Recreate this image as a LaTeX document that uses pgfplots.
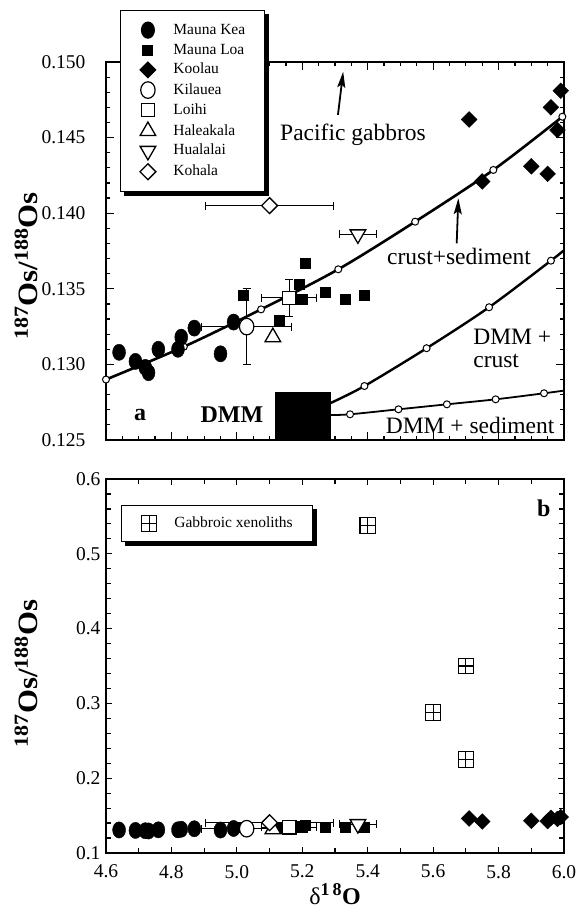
\documentclass[border=0pt]{standalone}
\usepackage{fontspec}
\setmainfont{Liberation Serif}
\usepackage{graphicx}
\usepackage{pgfplots}
\usepackage{pgfplotstable}
\pgfplotsset{compat=1.18}
\usetikzlibrary{arrows.meta}

\newcommand\tickfont{\fontsize{19.5}{19.5}\selectfont}
\newcommand\lblfont{\fontsize{23.5}{23.5}\selectfont}
\newcommand\legfont{\fontsize{15.5}{15.5}\selectfont}
\newcommand\oslabel{\scalebox{1.1}[1]{\bfseries\fontsize{28}{28}\selectfont\textsuperscript{\fontsize{20}{20}\selectfont 187}Os/\textsuperscript{\fontsize{20}{20}\selectfont 188}Os}}

% square with a cross inside (gabbroic xenoliths)
\pgfdeclareplotmark{boxplus}{%
  \pgfpathrectangle{\pgfpoint{-\pgfplotmarksize}{-\pgfplotmarksize}}{\pgfpoint{2\pgfplotmarksize}{2\pgfplotmarksize}}%
  \pgfusepathqfillstroke
  \pgfpathmoveto{\pgfpoint{-\pgfplotmarksize}{0pt}}\pgfpathlineto{\pgfpoint{\pgfplotmarksize}{0pt}}%
  \pgfpathmoveto{\pgfpoint{0pt}{-\pgfplotmarksize}}\pgfpathlineto{\pgfpoint{0pt}{\pgfplotmarksize}}%
  \pgfusepathqstroke}

% data
\pgfplotstableread{
x y
4.64 0.1308
4.69 0.1302
4.72 0.1298
4.73 0.12945
4.76 0.1310
4.82 0.1310
4.83 0.1318
4.87 0.1324
4.95 0.1307
4.99 0.1328
}\maunakea
\pgfplotstableread{
x y
5.02 0.1346
5.13 0.1329
5.19 0.1353
5.21 0.1367
5.20 0.1343
5.27 0.1348
5.33 0.1343
5.39 0.1346
}\maunaloa
\pgfplotstableread{
x y
5.71 0.1462
5.75 0.1421
5.90 0.1431
5.95 0.1426
5.96 0.1470
5.99 0.1481
5.98 0.1455
}\koolau
\pgfplotstableread{
x y ex ey
5.03 0.1325 0.137 0.0025
}\kilauea
\pgfplotstableread{
x y ex ey
5.16 0.1344 0.084 0.0012
}\loihi
\pgfplotstableread{
x y
5.11 0.1318
}\haleakala
\pgfplotstableread{
x y ex
5.37 0.1386 0.056
}\hualalai
\pgfplotstableread{
x y ex
5.10 0.1405 0.195
}\kohala
\pgfplotstableread{
x y
5.40 0.538
5.60 0.288
5.70 0.350
5.70 0.225
}\gabbro

% mixing curves
\pgfplotstableread{
x y
4.600 0.1290
4.838 0.13117
5.074 0.13364
5.310 0.13629
5.545 0.13944
5.784 0.14286
5.995 0.14638
}\crustsed
\pgfplotstableread{
x y
5.285 0.12743
5.390 0.12857
5.580 0.13107
5.771 0.13378
5.960 0.13686
5.998 0.13752
}\dmmcrust
\pgfplotstableread{
x y
5.285 0.12665
5.346 0.12670
5.494 0.12703
5.642 0.12736
5.791 0.12769
5.939 0.12809
5.998 0.12826
}\dmmsed

\pgfplotsset{
  osaxis/.style={
    scale only axis, width=458pt, xmin=4.6, xmax=6.0,
    axis line style={line width=1.6pt},
    every tick/.style={black, line width=1.2pt},
    major tick length=8pt, minor tick length=4pt,
    tick label style={font=\tickfont},
    /pgf/number format/assume math mode=true,
    xtick distance=0.2,
    scaled ticks=false,
    clip=false,
    legend cell align=left,
  },
  legbox/.style={draw=black, line width=1pt, fill=white, inner xsep=19.5pt,
    row sep=3.85pt, column sep=17.5pt, font=\legfont, cells={anchor=west},
    nodes={inner sep=0pt, text height=12pt, text depth=4pt, font=\legfont}},
  mkea/.style={only marks, mark=*, mark size=6.5pt, mark options={fill=black, draw=black, yscale=1.25}},
  mloa/.style={only marks, mark=square*, mark size=5pt, mark options={fill=black, draw=black}},
  kool/.style={only marks, mark=square*, mark size=5.6pt, mark options={fill=black, draw=black, rotate=45}},
  kila/.style={only marks, mark=*, mark size=7.2pt, mark options={fill=white, draw=black, line width=1.2pt, yscale=1.15}},
  loih/.style={only marks, mark=square*, mark size=6.7pt, mark options={fill=white, draw=black, line width=1.2pt}},
  hale/.style={only marks, mark=triangle*, mark size=9pt, mark options={fill=white, draw=black, line width=1.3pt}},
  hual/.style={only marks, mark=triangle*, mark size=9pt, mark options={fill=white, draw=black, line width=1.3pt, rotate=180}},
  koha/.style={only marks, mark=square*, mark size=5.6pt, mark options={fill=white, draw=black, line width=1.3pt, rotate=45}},
  gabb/.style={only marks, mark=boxplus, mark size=7.75pt, mark options={fill=white, draw=black, line width=1.2pt}},
  ebxy/.style={draw=none, mark=none, forget plot,
    error bars/.cd, x dir=both, x explicit, y dir=both, y explicit,
    error bar style={draw=black, line width=1pt},
    error mark options={draw=black, line width=1pt, mark size=4pt, rotate=90}},
  ebx/.style={draw=none, mark=none, forget plot,
    error bars/.cd, x dir=both, x explicit,
    error bar style={draw=black, line width=1pt},
    error mark options={draw=black, line width=1pt, mark size=4pt, rotate=90}},
  curvemk/.style={only marks, mark=*, mark size=3.5pt, mark options={fill=white, draw=black, line width=1pt}, forget plot},
}

\begin{document}
\begin{tikzpicture}
\useasboundingbox (0pt,0pt) rectangle (577pt,-912pt);

% ---------------- panel a ----------------
\begin{axis}[osaxis,
  at={(106pt,-62pt)}, anchor=north west, height=378pt,
  ymin=0.125, ymax=0.150,
  ytick distance=0.005, minor y tick num=4, minor x tick num=3,
  xticklabels={},
  yticklabel style={xshift=-17pt, /pgf/number format/.cd, fixed, fixed zerofill, precision=3},
  ylabel={\oslabel},
  every axis y label/.style={at={(-0.1747,0.46)}, rotate=90, anchor=center},
  legend style={legbox, name=lega, at={(0.0306,1.1376)}, anchor=north west, inner ysep=11.5pt},
]
% mixing curves
\addplot[line width=2.6pt, smooth, forget plot] table {\crustsed};
\addplot[curvemk] table {\crustsed};
\addplot[line width=2.4pt, smooth, forget plot] table {\dmmcrust};
\addplot[curvemk] table[skip coords between index={0}{1}, skip coords between index={5}{6}] {\dmmcrust};
\addplot[line width=1.8pt, smooth, forget plot] table {\dmmsed};
\addplot[curvemk] table[skip coords between index={0}{1}, skip coords between index={6}{7}] {\dmmsed};
% DMM box
\addplot[fill=black, draw=black, forget plot] coordinates {(5.117,0.125) (5.285,0.125) (5.285,0.12819) (5.117,0.12819)} -- cycle;
% error bars
\addplot[ebxy] table[x=x, y=y, x error=ex, y error=ey] {\kilauea};
\addplot[ebxy] table[x=x, y=y, x error=ex, y error=ey] {\loihi};
\addplot[ebx] table[x=x, y=y, x error=ex] {\hualalai};
\addplot[ebx] table[x=x, y=y, x error=ex] {\kohala};
% samples
\addplot[mkea] table {\maunakea}; \addlegendentry{\legfont Mauna Kea}
\addplot[mloa] table {\maunaloa}; \addlegendentry{\legfont Mauna Loa}
\addplot[kool] table {\koolau}; \addlegendentry{\legfont Koolau}
\addplot[kila] table[x=x, y=y] {\kilauea}; \addlegendentry{\legfont Kilauea}
\addplot[loih] table[x=x, y=y] {\loihi}; \addlegendentry{\legfont Loihi}
\addplot[hale] table {\haleakala}; \addlegendentry{\legfont Haleakala}
\addplot[hual] table[x=x, y=y] {\hualalai}; \addlegendentry{\legfont Hualalai}
\addplot[koha] table[x=x, y=y] {\kohala}; \addlegendentry{\legfont Kohala}
% labels
\node[font=\lblfont] at (axis cs:5.355,0.14517) {Pacific gabbros};
\draw[line width=1.8pt, -{Stealth[length=16pt, width=8pt, inset=3pt]}] (axis cs:5.309,0.1465) -- (axis cs:5.325,0.14936);
\node[font=\lblfont] at (axis cs:5.679,0.13712) {crust+sediment};
\draw[line width=1.8pt, -{Stealth[length=16pt, width=8pt, inset=3pt]}] (axis cs:5.672,0.13801) -- (axis cs:5.677,0.14099);
\node[font=\fontsize{23.5}{23.3}\selectfont, align=left, anchor=west] at (axis cs:5.712,0.13106) {DMM +\\crust};
\node[font=\lblfont] at (axis cs:5.713,0.12599) {DMM + sediment};
\node[font=\fontsize{24}{24}\selectfont\bfseries] at (axis cs:4.704,0.12665) {a};
\node[font=\fontsize{24}{24}\selectfont\bfseries] at (axis cs:4.985,0.12665) {DMM};
\end{axis}

% ---------------- panel b ----------------
\begin{axis}[osaxis,
  at={(106pt,-479pt)}, anchor=north west, height=374pt,
  ymin=0.1, ymax=0.6,
  ytick distance=0.1, minor y tick num=4, minor x tick num=1,
  major tick length=6pt, minor tick length=5pt,
  xticklabel style={yshift=-8.5pt, /pgf/number format/.cd, fixed, fixed zerofill, precision=1},
  yticklabel style={xshift=-2pt, /pgf/number format/.cd, fixed, fixed zerofill, precision=1},
  xlabel={\fontsize{24}{24}\selectfont δ\textbf{\textsuperscript{\fontsize{18}{18}\selectfont 1\,8}O}},
  every axis x label/.style={at={(0.5,-0.11)}, anchor=center},
  ylabel={\oslabel},
  every axis y label/.style={at={(-0.1747,0.48)}, rotate=90, anchor=center},
  legend style={legbox, name=legb, at={(0.0336,0.9305)}, anchor=north west, inner ysep=10pt},
]
\addplot[ebxy] table[x=x, y=y, x error=ex, y error=ey] {\kilauea};
\addplot[ebxy] table[x=x, y=y, x error=ex, y error=ey] {\loihi};
\addplot[ebx] table[x=x, y=y, x error=ex] {\hualalai};
\addplot[ebx] table[x=x, y=y, x error=ex] {\kohala};
\addplot[gabb] table {\gabbro};
\addlegendentry{\legfont Gabbroic xenoliths}
\addplot[mkea, forget plot] table {\maunakea};
\addplot[mloa, forget plot] table {\maunaloa};
\addplot[kool, forget plot] table {\koolau};
\addplot[kila, forget plot] table[x=x, y=y] {\kilauea};
\addplot[loih, forget plot] table[x=x, y=y] {\loihi};
\addplot[hale, forget plot] table {\haleakala};
\addplot[hual, forget plot] table[x=x, y=y] {\hualalai};
\addplot[koha, forget plot] table[x=x, y=y] {\kohala};
\node[font=\fontsize{24}{24}\selectfont\bfseries] at (axis cs:5.938,0.561) {b};
\end{axis}

% legend drop shadows: black strips along the right and bottom edges
\foreach \lg in {lega,legb}{
  \fill[black] ([yshift=-4pt]\lg.north east) rectangle ([shift={(4pt,-4pt)}]\lg.south east);
  \fill[black] ([xshift=4pt]\lg.south west) rectangle ([shift={(4pt,-4pt)}]\lg.south east);
}
\end{tikzpicture}
\end{document}
